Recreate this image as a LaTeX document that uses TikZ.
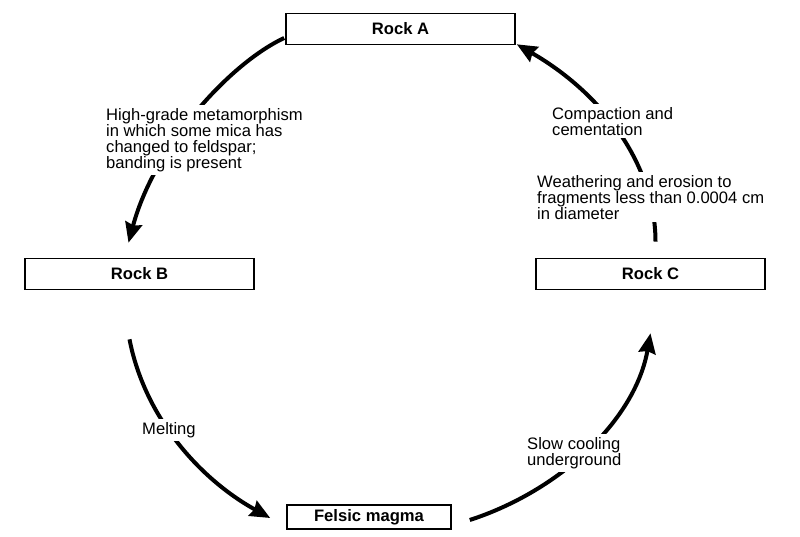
\documentclass[tikz,border=0pt]{standalone}
\usepackage{fontspec}
\setmainfont{Liberation Sans}
\usetikzlibrary{positioning}
\usetikzlibrary{calc}
\usetikzlibrary{arrows.meta}
\tikzset{rock/.style={draw,line width=1.6pt,minimum height=31pt,inner sep=0pt,font=\fontsize{16.6}{16}\selectfont\bfseries},
cyc/.style={line width=4pt,-{Stealth[length=20pt,width=17pt,inset=2pt]}},
lbl/.style={fill=white,align=left,inner sep=3pt,anchor=north west,font=\fontsize{16.6}{16}\selectfont}}

\begin{document}
\begin{tikzpicture}[x=1pt,y=1pt]
\useasboundingbox (0,0) rectangle (800,536);

\node (a) at (400.5,507) [rock,minimum width=229pt] {Rock A};
\node (b) at (139.5,262) [rock,minimum width=229pt] {Rock B};
\node (c) at (650.5,262) [rock,minimum width=229pt] {Rock C};
\node (m) at (369,19) [rock,minimum width=164pt,minimum height=24pt] {Felsic magma};

\draw[cyc] ($(a.west)+(-1,-9)$) .. controls +(205:60) and +(75:100) .. ($(b.north)+(-11,15)$);
\draw[cyc] ($(b.south)+(-10,-49)$) .. controls +(-79:80) and +(151:80) .. ($(m.west)+(-16,-1)$);
\draw[cyc] ($(m.east)+(18,-3)$) .. controls +(18:95) and +(-100:88) .. ($(c.south)+(0,-43)$);
\draw[cyc] ($(c.north)+(5,16)$) .. controls +(90:72) and +(-30:105) .. ($(a.south east)+(1,1)$);

\node (meta) at (103,431) [lbl] {High-grade metamorphism\\in which some mica has\\changed to feldspar;\\banding is present};
\node (melt) at (139,117) [lbl] {Melting};
\node (cool) at (524,102) [lbl] {Slow cooling\\underground};
\node (weath) at (534,364) [lbl] {Weathering and erosion to\\fragments less than 0.0004 cm\\in diameter};
\node (comp) at (549,432) [lbl] {Compaction and\\cementation};
\end{tikzpicture}
\end{document}
